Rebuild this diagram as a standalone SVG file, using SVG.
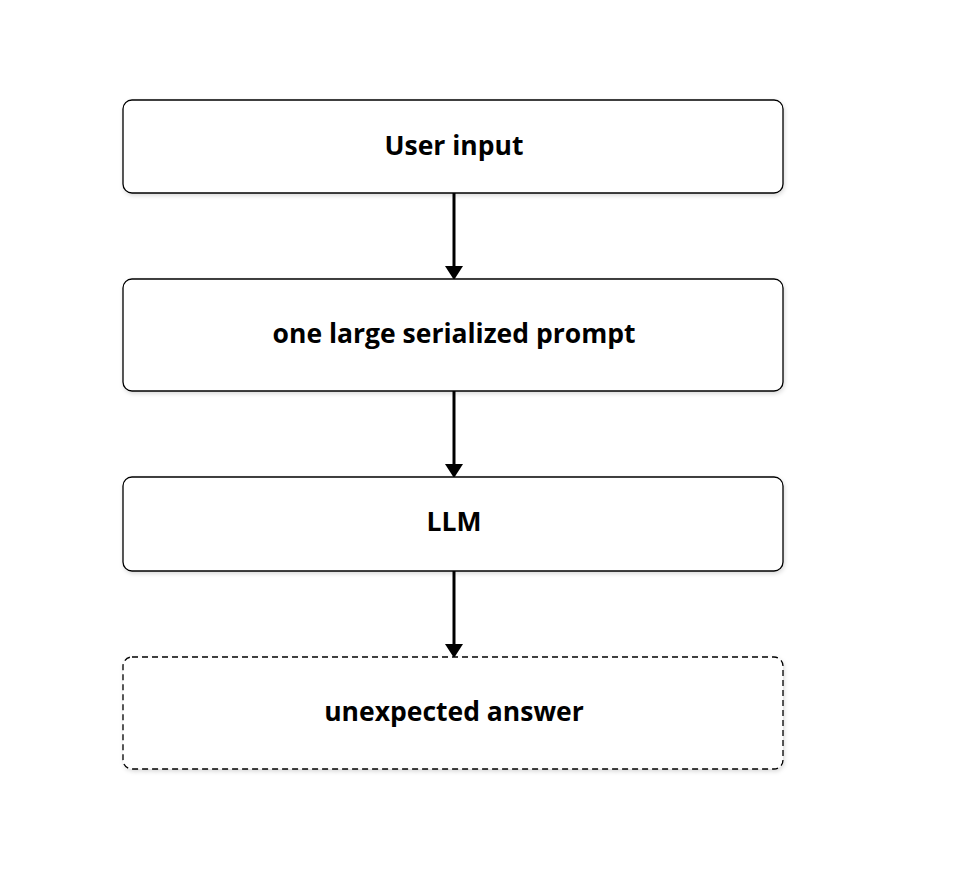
<svg xmlns="http://www.w3.org/2000/svg" width="962" height="885" viewBox="0 0 962 885">
<style>
.box{fill:#fff;stroke:#000;stroke-width:1.3}
.dash{stroke-dasharray:6 4}
.t{font-family:"Open Sans","Noto Sans",sans-serif;font-weight:bold;font-size:26.5px;text-anchor:middle;dominant-baseline:central;fill:#000}
.c{stroke:#000;stroke-width:3;fill:none}
</style>
<defs>
<filter id="sh" x="-5%" y="-10%" width="110%" height="130%"><feDropShadow dx="1" dy="2" stdDeviation="2" flood-opacity="0.15"/></filter>
</defs>
<rect width="962" height="885" fill="#fff"/>
<g id="connectors">
<line class="c" x1="454" y1="193" x2="454" y2="268"/><polygon points="445,266 463,266 454,280"/>
<line class="c" x1="454" y1="391" x2="454" y2="466"/><polygon points="445,464 463,464 454,478"/>
<line class="c" x1="454" y1="571" x2="454" y2="646"/><polygon points="445,644 463,644 454,658"/>
</g>
<g id="user-input"><rect class="box" filter="url(#sh)" x="123" y="100" width="660" height="93" rx="9"/><text class="t" x="454" y="145">User input</text></g>
<g id="prompt"><rect class="box" filter="url(#sh)" x="123" y="279" width="660" height="112" rx="9"/><text class="t" x="454" y="333">one large serialized prompt</text></g>
<g id="llm"><rect class="box" filter="url(#sh)" x="123" y="477" width="660" height="94" rx="9"/><text class="t" x="454" y="521">LLM</text></g>
<g id="answer"><rect class="box dash" filter="url(#sh)" x="123" y="657" width="660" height="112" rx="9"/><text class="t" x="454" y="711">unexpected answer</text></g>
</svg>
